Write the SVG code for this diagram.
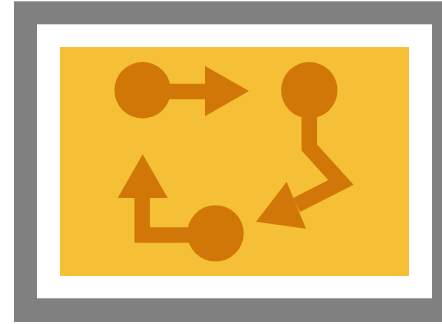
<svg xmlns="http://www.w3.org/2000/svg" width="442" height="324" viewBox="0 0 442 324">
<style>
.node{fill:#D17708}
.edge{fill:none;stroke:#D17708;stroke-width:15.5;stroke-linejoin:miter;stroke-miterlimit:10}
.head{fill:#D17708}
</style>
<g id="frame">
<rect x="14" y="1.3" width="440" height="320.7" fill="#808080"/>
<rect x="37" y="24.3" width="395" height="274" fill="#FFFFFF"/>
<rect x="60" y="47" width="349" height="229" fill="#F5C035"/>
</g>
<g id="connectors">
<path class="edge" d="M160 91.5 H206"/>
<polygon class="head" points="205,66 249,91 205,116.3"/>
<path class="edge" d="M309.3 115 V147.5 L341 182.5 L296.5 205"/>
<polygon class="head" points="286.7,181.7 256,221.7 306,228.7"/>
<path class="edge" d="M195 235 H142.2 V196"/>
<polygon class="head" points="117.7,198 142.7,154.3 167.7,198"/>
</g>
<g id="node1"><circle class="node" cx="142.6" cy="90.2" r="28.2"/></g>
<g id="node2"><circle class="node" cx="309.3" cy="90.3" r="28.2"/></g>
<g id="node3"><circle class="node" cx="215.5" cy="233.4" r="28.2"/></g>
</svg>
